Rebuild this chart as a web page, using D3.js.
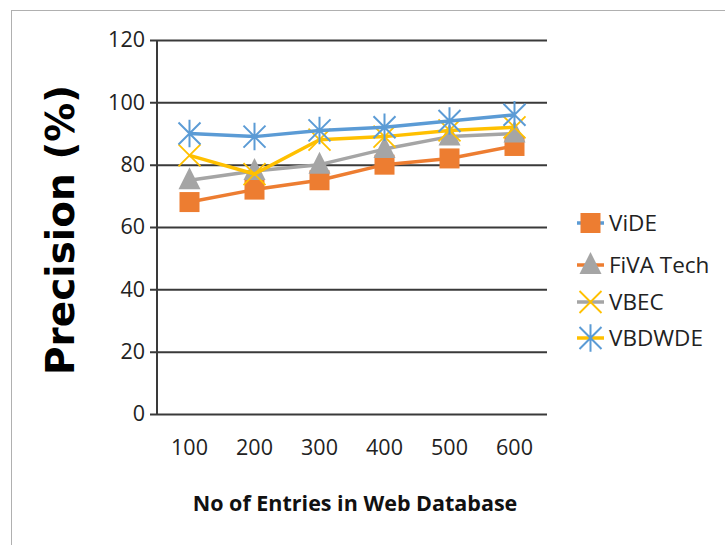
<!DOCTYPE html>
<html>
<head>
<meta charset="utf-8">
<script src="https://cdn.jsdelivr.net/npm/d3@7"></script>
<style>
  html, body { margin: 0; padding: 0; background: #fff; }
  svg { display: block; }
</style>
</head>
<body>
<svg id="chart" width="725" height="545"></svg>
<script>
// ---- data ----
const categories = ["100", "200", "300", "400", "500", "600"];
const seriesNames = ["ViDE", "FiVA Tech", "VBEC", "VBDWDE"];
const vide   = [68, 72, 75, 80, 82, 86];
const fiva   = [75, 78, 80, 85, 89, 90];
const vbec   = [83, 77, 88, 89, 91, 92];
const vbdwde = [90, 89, 91, 92, 94, 96];
const yTicks = [0, 20, 40, 60, 80, 100, 120];
const xTitle = "No of Entries in Web Database";
const yTitle = "Precision (%)";

const seriesValues = [vide, fiva, vbec, vbdwde];
const colors = ["#ED7D31", "#A5A5A5", "#FFC000", "#5B9BD5"];
const markers = ["square", "triangle", "x", "star"];
// the legend in the source shows each row's line in the previous series' colour
const legendLineColors = ["#5B9BD5", "#ED7D31", "#A5A5A5", "#FFC000"];

const svg = d3.select("#chart");
const font = "'Open Sans', 'Noto Sans', sans-serif";

// frame (only top and left edges visible)
svg.append("line").attr("x1", 11).attr("x2", 725).attr("y1", 10.5).attr("y2", 10.5)
  .attr("stroke", "#b0b0b0").attr("stroke-width", 1);
svg.append("line").attr("x1", 11.5).attr("x2", 11.5).attr("y1", 10).attr("y2", 545)
  .attr("stroke", "#b0b0b0").attr("stroke-width", 1);

const plot = { left: 157, right: 547, top: 40, bottom: 414 };

const x = d3.scaleBand().domain(categories).range([plot.left, plot.right]);
const y = d3.scaleLinear().domain([0, 120]).range([plot.bottom, plot.top]);

// gridlines + y axis
const yAxis = d3.axisLeft(y).tickValues(yTicks).tickSize(-(plot.right - plot.left)).tickPadding(12).tickFormat(d3.format("d"));
const gy = svg.append("g").attr("transform", `translate(${plot.left},0)`).call(yAxis);
gy.select(".domain").remove();
gy.selectAll(".tick line").attr("stroke", "#3a3a3a").attr("stroke-width", 2).attr("x1", -7);
gy.selectAll(".tick text").attr("font-family", font).attr("font-size", 21.5).attr("fill", "#222");
svg.append("line").attr("x1", plot.left).attr("x2", plot.left).attr("y1", plot.top).attr("y2", plot.bottom)
  .attr("stroke", "#3a3a3a").attr("stroke-width", 2);

// x axis labels
const xAxis = d3.axisBottom(x).tickSize(0).tickPadding(26);
const gx = svg.append("g").attr("transform", `translate(0,${plot.bottom})`).call(xAxis);
gx.select(".domain").remove();
gx.selectAll(".tick text").attr("font-family", font).attr("font-size", 21.5).attr("fill", "#222");

// titles
svg.append("text").attr("x", 355).attr("y", 511).attr("text-anchor", "middle")
  .attr("font-family", font).attr("font-weight", "bold").attr("font-size", 21.5).attr("fill", "#111")
  .text(xTitle);
svg.append("text").attr("transform", "translate(74,230) rotate(-90)").attr("text-anchor", "middle")
  .attr("font-family", "'DejaVu Sans', sans-serif").attr("font-weight", "bold").attr("font-size", 39).attr("fill", "#000")
  .text(yTitle);

// marker drawing
function drawMarker(g, type, color, cx, cy) {
  if (type === "square") {
    g.append("rect").attr("x", cx - 10).attr("y", cy - 10).attr("width", 20).attr("height", 20).attr("fill", color);
  } else if (type === "triangle") {
    g.append("path").attr("d", `M${cx},${cy - 13} L${cx + 11},${cy + 9} L${cx - 11},${cy + 9} Z`).attr("fill", color);
  } else if (type === "x") {
    const r = 11;
    g.append("path").attr("d", `M${cx - r},${cy - r} L${cx + r},${cy + r} M${cx - r},${cy + r} L${cx + r},${cy - r}`)
      .attr("stroke", color).attr("stroke-width", 1.8).attr("fill", "none");
  } else if (type === "star") {
    const r = 11;
    g.append("path").attr("d",
      `M${cx - r},${cy - r} L${cx + r},${cy + r} M${cx - r},${cy + r} L${cx + r},${cy - r} M${cx},${cy - r * 1.25} L${cx},${cy + r * 1.25}`)
      .attr("stroke", color).attr("stroke-width", 2).attr("fill", "none");
  }
}

// series
const line = d3.line().x((d, i) => x(categories[i]) + x.bandwidth() / 2).y(d => y(d));
seriesValues.forEach((vals, s) => {
  const g = svg.append("g");
  g.append("path").datum(vals).attr("d", line).attr("fill", "none")
    .attr("stroke", colors[s]).attr("stroke-width", 3.5).attr("stroke-linejoin", "round");
  vals.forEach((v, i) => drawMarker(g, markers[s], colors[s], x(categories[i]) + x.bandwidth() / 2, y(v)));
});

// legend
const legendY = [223, 265, 302, 338];
seriesNames.forEach((name, s) => {
  const g = svg.append("g");
  const cy = legendY[s];
  g.append("line").attr("x1", 577).attr("x2", 604).attr("y1", cy).attr("y2", cy)
    .attr("stroke", legendLineColors[s]).attr("stroke-width", 3.5);
  drawMarker(g, markers[s], colors[s], 590.5, cy);
  g.append("text").attr("x", 609).attr("y", cy).attr("dy", "0.35em")
    .attr("font-family", font).attr("font-size", 22.5).attr("fill", "#222").text(name);
});
</script>
</body>
</html>
